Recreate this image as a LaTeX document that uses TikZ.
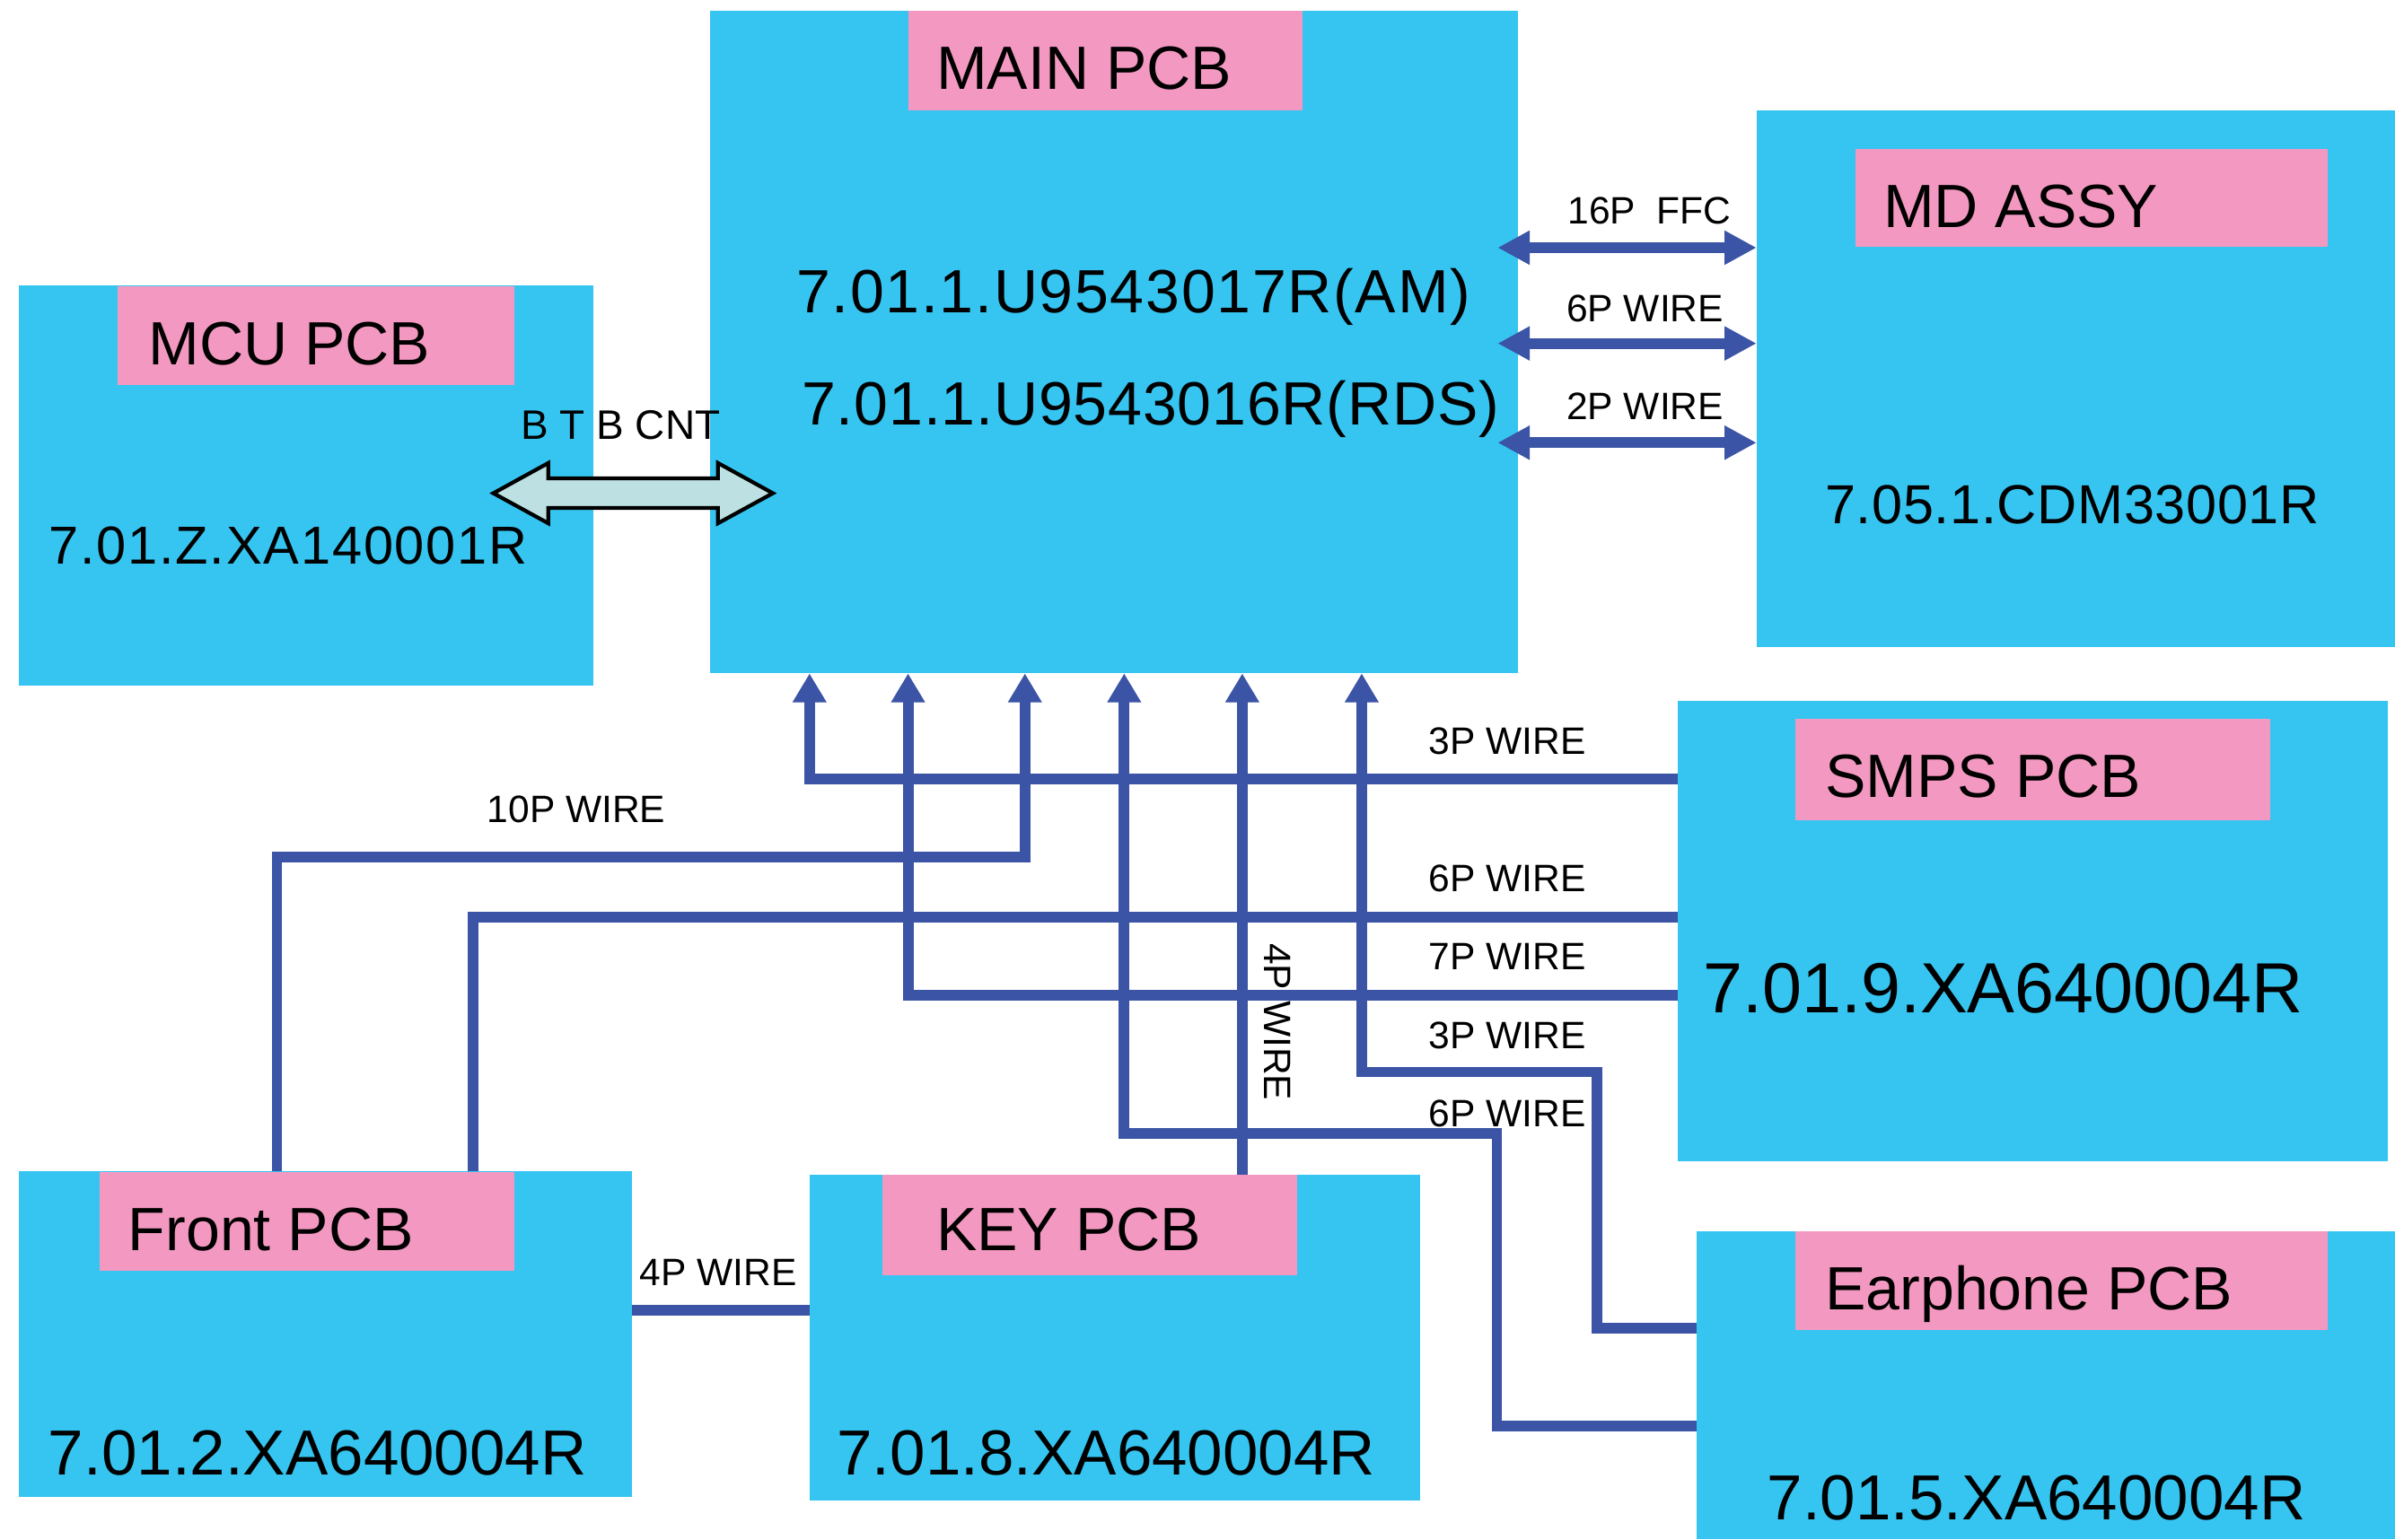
\documentclass[tikz,border=0pt]{standalone}
\usepackage{fontspec}
\setmainfont{Liberation Sans}
\usetikzlibrary{arrows.meta}
\definecolor{boardc}{RGB}{54,197,241}
\definecolor{pinkc}{RGB}{243,153,193}
\definecolor{wirec}{RGB}{59,84,165}
\definecolor{btbfill}{RGB}{189,224,226}
\newcommand{\fsz}[1]{\fontsize{#1pt}{#1pt}\selectfont}
\begin{document}
\begin{tikzpicture}[x=1pt,y=-1pt,
  board/.style={fill=boardc, inner sep=0, outer sep=0, anchor=north west},
  tagbox/.style={fill=pinkc, inner sep=0, outer sep=0, anchor=north west},
  txt/.style={inner sep=0, outer sep=0, anchor=base west},
  wire/.style={draw=wirec, line width=7pt, line join=miter},
  uptip/.style={-{Triangle[length=19pt,width=21pt]}},
  bothtip/.style={{Triangle[length=21pt,width=21pt]}-{Triangle[length=21pt,width=21pt]}},
  wlabel/.style={txt, font=\fsz{25}},
]
\useasboundingbox (0,0) rectangle (1568,1008);
\fill[white] (0,0) rectangle (1568,1008);

% boards
\node[board, minimum width=529pt, minimum height=434pt] (main) at (465,7) {};
\node[board, minimum width=376pt, minimum height=262pt] (mcu) at (12.5,187) {};
\node[board, minimum width=418pt, minimum height=352pt] (md) at (1150,72) {};
\node[board, minimum width=464.5pt, minimum height=301.5pt] (smps) at (1098.5,459) {};
\node[board, minimum width=457.5pt, minimum height=201.5pt] (ear) at (1110.5,806.5) {};
\node[board, minimum width=401pt, minimum height=213pt] (front) at (12.5,767) {};
\node[board, minimum width=400pt, minimum height=213pt] (key) at (530,769.5) {};

% pink title boxes
\node[tagbox, minimum width=258.5pt, minimum height=65pt] (maintag) at (594.5,7) {};
\node[tagbox, minimum width=259.7pt, minimum height=64.6pt] (mcutag) at (77,187.4) {};
\node[tagbox, minimum width=309.5pt, minimum height=64.3pt] (mdtag) at (1214.5,97.4) {};
\node[tagbox, minimum width=310.6pt, minimum height=66.6pt] (smpstag) at (1175.4,470.6) {};
\node[tagbox, minimum width=348.5pt, minimum height=64.5pt] (eartag) at (1175.5,806.5) {};
\node[tagbox, minimum width=271.4pt, minimum height=64.7pt] (fronttag) at (65.4,767.3) {};
\node[tagbox, minimum width=271.4pt, minimum height=65.7pt] (keytag) at (578,769.3) {};

% titles
\node[txt, font=\fsz{40}] (maint) at (613,58.4) {MAIN PCB};
\node[txt, font=\fsz{40}] (mcut) at (97.2,238.8) {MCU PCB};
\node[txt, font=\fsz{40}] (mdt) at (1233,148.7) {MD ASSY};
\node[txt, font=\fsz{40}] (smpst) at (1195,522) {SMPS PCB};
\node[txt, font=\fsz{40}] (eart) at (1195,857.5) {Earphone PCB};
\node[txt, font=\fsz{40}] (frontt) at (84,819) {Front PCB};
\node[txt, font=\fsz{40}] (keyt) at (613,819) {KEY PCB};

% part numbers
\node[txt, font={\fsz{40}\addfontfeature{LetterSpace=2.5}}] (mainpn1) at (521.3,205) {7.01.1.U9543017R(AM)};
\node[txt, font={\fsz{40}\addfontfeature{LetterSpace=1.2}}] (mainpn2) at (525,278) {7.01.1.U9543016R(RDS)};
\node[txt, font={\fsz{35}\addfontfeature{LetterSpace=3}}] (mcupn) at (32,369.6) {7.01.Z.XA140001R};
\node[txt, font={\fsz{36}\addfontfeature{LetterSpace=1}}] (mdpn) at (1195,343) {7.05.1.CDM33001R};
\node[txt, font=\fsz{46.5}] (smpspn) at (1115,663.5) {7.01.9.XA640004R};
\node[txt, font=\fsz{41.7}] (earpn) at (1157,995) {7.01.5.XA640004R};
\node[txt, font=\fsz{41.7}] (frontpn) at (31.7,966) {7.01.2.XA640004R};
\node[txt, font=\fsz{41.7}] (keypn) at (548,966) {7.01.8.XA640004R};

% BTB connector arrow
\coordinate (btbc) at (414.5,323);
\draw[fill=btbfill, line width=2.5pt, line join=miter]
  (btbc) ++(-91.5,0) -- ++(36,-19.8) -- ++(0,10) -- ++(111,0) -- ++(0,-10)
  -- ++(36,19.8) -- ++(-36,19.7) -- ++(0,-10) -- ++(-111,0) -- ++(0,10) -- cycle;
\node[txt, font=\fsz{27}] (btbt) at (341,287.6) {B T B CNT};

% MD ASSY connections
\coordinate (ya) at (0,162.2);
\coordinate (yb) at (0,224.9);
\coordinate (yc) at (0,289.9);
\draw[wire, bothtip, shorten <=-13.5pt] (main.east |- ya) -- (md.west |- ya);
\draw[wire, bothtip, shorten <=-13.5pt] (main.east |- yb) -- (md.west |- yb);
\draw[wire, bothtip, shorten <=-13.5pt] (main.east |- yc) -- (md.west |- yc);
\node[wlabel] (l16) at (1026.5,146.4) {16P\ \ FFC};
\node[wlabel] (l6a) at (1025.6,210.6) {6P WIRE};
\node[wlabel] (l2) at (1025.6,274.6) {2P WIRE};

% bend points
\coordinate (b1) at (530,510);
\coordinate (b2a) at (181.3,561.2);
\coordinate (b2b) at (671,561.2);
\coordinate (b3) at (309.5,600.7);
\coordinate (b4) at (594.5,652);
\coordinate (b5a) at (1045.5,870);
\coordinate (b5b) at (1045.5,702);
\coordinate (b5c) at (891.5,702);
\coordinate (b6a) at (980,934);
\coordinate (b6b) at (980,742);
\coordinate (b6c) at (736,742);
\coordinate (b7) at (813.3,0);
\coordinate (y8) at (0,857.8);

% wires
\draw[wire, uptip] (smps.west |- b1) -- (b1) -- (main.south -| b1);
\draw[wire, uptip] (front.north -| b2a) -- (b2a) -- (b2b) -- (main.south -| b2b);
\draw[wire] (smps.west |- b3) -- (b3) -- (front.north -| b3);
\draw[wire, uptip] (smps.west |- b4) -- (b4) -- (main.south -| b4);
\draw[wire, uptip] (ear.west |- b5a) -- (b5a) -- (b5b) -- (b5c) -- (main.south -| b5c);
\draw[wire, uptip] (ear.west |- b6a) -- (b6a) -- (b6b) -- (b6c) -- (main.south -| b6c);
\draw[wire, uptip] (key.north -| b7) -- (main.south -| b7);
\draw[wire] (front.east |- y8) -- (key.west |- y8);

% wire labels
\node[wlabel] (l3a) at (935.4,494) {3P WIRE};
\node[wlabel] (l6b) at (935.4,583.7) {6P WIRE};
\node[wlabel] (l7) at (935.4,635) {7P WIRE};
\node[wlabel] (l3b) at (935.4,687) {3P WIRE};
\node[wlabel] (l6c) at (935.4,738) {6P WIRE};
\node[wlabel] (l10) at (319,538.5) {10P WIRE};
\node[wlabel] (l4h) at (419,841.6) {4P WIRE};
\node[wlabel, rotate=-90] (l4v) at (828,617.8) {4P WIRE};
\end{tikzpicture}
\end{document}
